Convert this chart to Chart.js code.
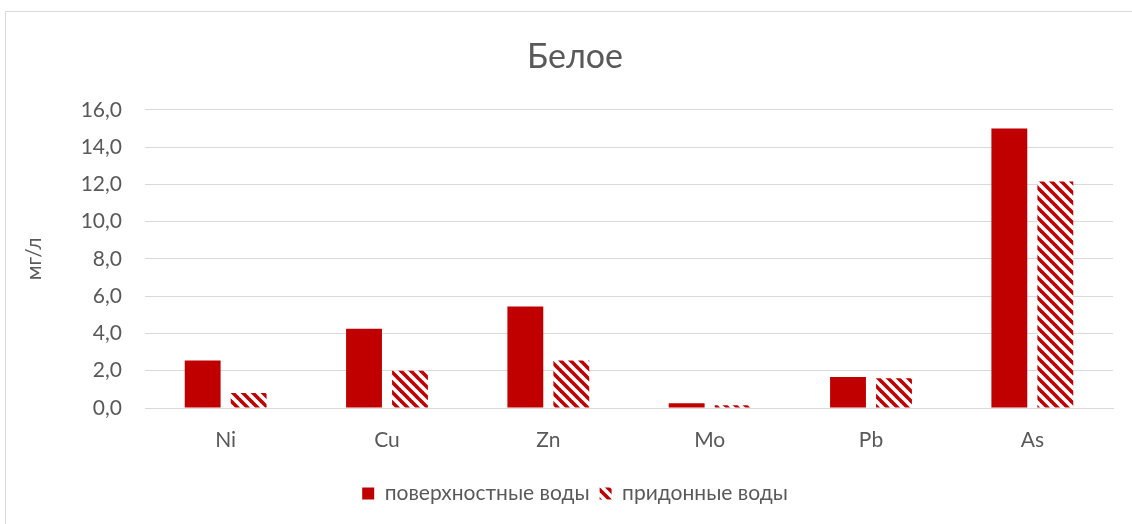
<!DOCTYPE html>
<html>
<head>
<meta charset="utf-8">
<script src="https://cdn.jsdelivr.net/npm/chart.js@4"></script>
<style>
  body { margin: 0; background: #fff; overflow: hidden; }
  #frame { position: absolute; left: 5px; top: 11px; width: 1140px; height: 530px; border: 1px solid #d9d9d9; }
  #wrap { position: absolute; left: 0; top: 0; width: 1132px; height: 524px; }
</style>
</head>
<body>
<div id="frame"></div>
<div id="wrap"><canvas id="chart" width="1132" height="524"></canvas></div>
<script>
// data
var categories = ["Ni", "Cu", "Zn", "Mo", "Pb", "As"];
var surfaceWater = [2.55, 4.25, 5.45, 0.25, 1.67, 15.0];
var bottomWater = [0.8, 2.0, 2.55, 0.15, 1.6, 12.15];
var seriesNames = ["поверхностные воды", "придонные воды"];
var chartTitle = "Белое";
var yTitle = "мг/л";

var red = "#c00000";
var grey = "#595959";
var fontFamily = "Lato, 'Open Sans', sans-serif";

// diagonal stripe fill
function makeHatch() {
    var c = document.createElement("canvas");
    c.width = 10;
    c.height = 10;
    var g = c.getContext("2d");
    g.fillStyle = "#fff";
    g.fillRect(0, 0, 10, 10);
    g.strokeStyle = red;
    g.lineWidth = 3.6;
    [-10, 0, 10].forEach(function(k) {
        g.beginPath();
        g.moveTo(k - 1, -1);
        g.lineTo(k + 11, 11);
        g.stroke();
    });
    return g.createPattern(c, "repeat");
}

var hatch = makeHatch();

var ctx = document.getElementById("chart").getContext("2d");
var myChart = new Chart(ctx, {
    type: "bar",
    data: {
        labels: categories,
        datasets: [{
            label: seriesNames[0],
            data: surfaceWater,
            backgroundColor: red,
            borderWidth: 0
        }, {
            label: seriesNames[1],
            data: bottomWater,
            backgroundColor: hatch,
            borderWidth: 0
        }]
    },
    options: {
        responsive: false,
        animation: false,
        barPercentage: 0.78,
        categoryPercentage: 0.57,
        layout: { padding: { left: 37, right: 19, top: 37, bottom: 10 } },
        plugins: {
            tooltip: { enabled: false },
            title: {
                display: true,
                text: chartTitle,
                color: grey,
                font: { family: fontFamily, size: 34, weight: "normal" },
                padding: { top: 0, bottom: 32 }
            },
            legend: {
                position: "bottom",
                labels: {
                    color: grey,
                    font: { family: fontFamily, size: 21 },
                    boxWidth: 12,
                    boxHeight: 12,
                    padding: 10
                }
            }
        },
        scales: {
            x: {
                grid: { display: false },
                border: { color: "#d9d9d9", width: 1 },
                ticks: {
                    color: grey,
                    font: { family: fontFamily, size: 21 },
                    padding: 12
                },
                afterFit: function(scale) { scale.height = 65; }
            },
            y: {
                min: 0,
                max: 16,
                border: { display: false },
                grid: { color: "#d9d9d9", lineWidth: 1, drawTicks: false },
                ticks: {
                    stepSize: 2,
                    color: grey,
                    font: { family: fontFamily, size: 21 },
                    padding: 23,
                    callback: function(v) { return v.toFixed(1).replace(".", ","); }
                },
                title: {
                    display: true,
                    text: yTitle,
                    color: grey,
                    font: { family: fontFamily, size: 21 },
                    padding: { top: -15, bottom: 0 }
                },
                afterFit: function(scale) { scale.width = 108; }
            }
        }
    }
});
</script>
</body>
</html>
